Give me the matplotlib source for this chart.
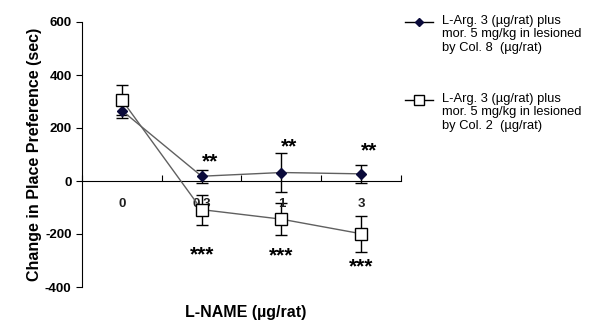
import numpy as np
import matplotlib
matplotlib.use("Agg")
import matplotlib.pyplot as plt
from matplotlib.lines import Line2D

doses = ["0", "0.3", "1", "3"]
col8_mean = [266, 18, 32, 27]
col8_err = [30, 24, 73, 35]
col2_mean = [306, -108, -144, -199]
col2_err = [58, 57, 60, 68]
col8_stars = ["", "**", "**", "**"]
col8_star_y = [0, 73, 130, 115]
col2_stars = ["", "***", "***", "***"]
col2_star_y = [0, -277, -281, -326]

label8 = "L-Arg. 3 (\u00b5g/rat) plus\nmor. 5 mg/kg in lesioned\nby Col. 8  (\u00b5g/rat)"
label2 = "L-Arg. 3 (\u00b5g/rat) plus\nmor. 5 mg/kg in lesioned\nby Col. 2  (\u00b5g/rat)"

plt.rcParams['font.family'] = ['Liberation Sans', 'DejaVu Sans']
plt.rcParams['axes.unicode_minus'] = False

fig = plt.figure(figsize=(6, 3.25), dpi=100)
ax = fig.add_axes([82/600, 38/325, 319/600, 265/325])

x = np.arange(len(doses)) + 0.5

ax.errorbar(x, col8_mean, yerr=col8_err, color='#606060', lw=1, marker='D', ms=5,
            mfc='#0a0a3a', mec='#0a0a3a', ecolor='black', elinewidth=1, capsize=4,
            zorder=3)
ax.errorbar(x, col2_mean, yerr=col2_err, color='#606060', lw=1, marker='s', ms=9,
            mfc='white', mec='black', ecolor='black', elinewidth=1, capsize=4,
            zorder=3)

for xi, s, yv in zip(x, col8_stars, col8_star_y):
    if s:
        ax.text(xi + 0.1, yv, s, ha='center', va='center', fontsize=15, fontweight='bold')
for xi, s, yv in zip(x, col2_stars, col2_star_y):
    if s:
        ax.text(xi, yv, s, ha='center', va='center', fontsize=15, fontweight='bold')

ax.set_xlim(0, 4)
ax.set_ylim(-400, 600)
ax.set_yticks([-400, -200, 0, 200, 400, 600])
ax.tick_params(axis='y', labelsize=9.5, direction='out', length=4)
for lab in ax.get_yticklabels():
    lab.set_fontweight('bold')

# x axis drawn at y = 0
ax.spines['bottom'].set_position(('data', 0))
ax.spines['top'].set_visible(False)
ax.spines['right'].set_visible(False)
ax.set_xticks([0, 1, 2, 3, 4])
ax.set_xticklabels([])
ax.tick_params(axis='x', direction='in', length=4)
for xi, d in zip(x, doses):
    ax.text(xi, -85, d, ha='center', va='center', fontsize=9.5, fontweight='bold', color='#202020')

ax.set_ylabel("Change in Place Preference (sec)", fontsize=11.5, fontweight='bold', labelpad=2)
fig.text(246/600, 1 - 313/325, "L-NAME (\u00b5g/rat)", ha='center', va='center',
         fontsize=11.5, fontweight='bold')

# legend drawn by hand: handle level with the first text line
for y0, lab, mk, ms, mfc in [(22, label8, 'D', 4, '#0a0a3a'), (100, label2, 's', 7, 'white')]:
    yf = 1 - y0 / 325
    fig.add_artist(Line2D([405/600, 433/600], [yf, yf], color='black', lw=1))
    fig.add_artist(Line2D([419/600], [yf], marker=mk, ms=ms, mfc=mfc,
                          mec='#0a0a3a' if mk == 'D' else 'black', lw=0))
    fig.text(442/600, yf + 7/325, lab, ha='left', va='top', fontsize=9.3,
             linespacing=1.15)

fig.savefig("out.png", dpi=100)
